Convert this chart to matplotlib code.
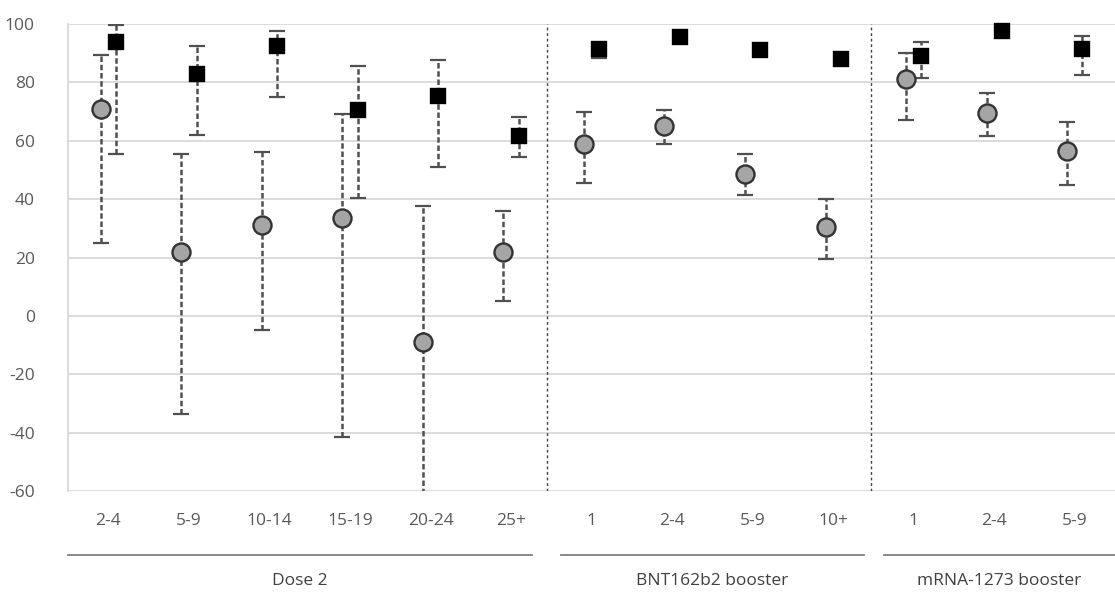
import matplotlib
matplotlib.use("Agg")
import matplotlib.pyplot as plt
import matplotlib.transforms as mtransforms

plt.rcParams['font.family'] = ['Open Sans', 'DejaVu Sans']
plt.rcParams['axes.unicode_minus'] = False

# category labels (months since dose) and group names
labels = ['2-4', '5-9', '10-14', '15-19', '20-24', '25+',
          '1', '2-4', '5-9', '10+',
          '1', '2-4', '5-9']
groups = ['Dose 2', 'BNT162b2 booster', 'mRNA-1273 booster']
group_start = [0, 6, 10]
group_end = [5, 9, 12]

# circle series (grey) with lower / upper bounds
circ = [71, 22, 31, 33.5, -9, 22, 59, 65, 48.5, 30.5, 81, 69.5, 56.5]
circ_lo = [25, -33.5, -5, -41.5, -75, 5, 45.5, 59, 41.5, 19.5, 67, 61.5, 45]
circ_hi = [89.5, 55.5, 56, 69, 37.5, 36, 70, 70.5, 55.5, 40, 90, 76.5, 66.5]

# square series (black) with lower / upper bounds
sq = [94, 83, 92.5, 70.5, 75.5, 61.5, 91.5, 95.5, 91, 88, 89, 97.5, 91.5]
sq_lo = [55.5, 62, 75, 40.5, 51, 54.5, 88.5, 93.5, 89, 86.5, 81.5, 95.5, 82.5]
sq_hi = [99.5, 92.5, 97.5, 85.5, 87.5, 68, 93.5, 97.5, 92.5, 89.5, 94, 99.5, 96]

x = list(range(len(labels)))
off = 0.095
xc = [i - off for i in x]
xs = [i + off for i in x]

fig = plt.figure(figsize=(11.15, 5.93), dpi=100)
ax = fig.add_axes([0.0612, 0.172, 0.9388, 0.7875])

ebcol = '#505050'
dash = (0, (2.2, 1.1))

def draw(xx, y, lo, hi, marker, ms, fc):
    err = [[v - l for v, l in zip(y, lo)], [h - v for v, h in zip(y, hi)]]
    eb = ax.errorbar(xx, y, yerr=err, fmt='none', ecolor=ebcol, elinewidth=1.8,
                     capsize=6, capthick=1.6, zorder=2)
    eb[2][0].set_linestyle(dash)
    ax.plot(xx, y, linestyle='none', marker=marker, markersize=ms,
            markerfacecolor=fc, markeredgecolor='#333333' if fc != 'black' else 'black',
            markeredgewidth=1.7, zorder=3, clip_on=False)

draw(xc, circ, circ_lo, circ_hi, 'o', 13, '#a5a5a5')
draw(xs, sq, sq_lo, sq_hi, 's', 10.5, 'black')

# dotted separators between groups
for sep in [5.45, 9.47]:
    ax.axvline(sep, color='#404040', linewidth=1.0, linestyle=(0, (2, 2)), zorder=1)

ax.set_xlim(-0.5, 12.5)
ax.set_ylim(-60, 100)
ax.set_yticks(range(-60, 101, 20))
ax.set_xticks(x)
ax.set_xticklabels(labels)
ax.grid(axis='y', color='#d9d9d9', linewidth=1.3, zorder=0)
ax.set_axisbelow(True)
ax.tick_params(axis='both', length=0, colors='#595959', labelsize=12.5)
ax.tick_params(axis='y', pad=24)
ax.tick_params(axis='x', pad=16)
for s in ['top', 'right', 'bottom']:
    ax.spines[s].set_visible(False)
ax.spines['left'].set_color('#d9d9d9')
ax.spines['left'].set_linewidth(1.3)

# group lines and labels under the axis
trans = mtransforms.blended_transform_factory(ax.transData, ax.transAxes)
pads = [(0.0, -0.24), (0.12, -0.12), (0.13, 0.0)]
for g, a, b, (pa, pb) in zip(groups, group_start, group_end, pads):
    x0 = a - 0.5 + pa
    x1 = b + 0.5 + pb
    ax.plot([x0, x1], [-0.137, -0.137], color='#7f7f7f', linewidth=1.3,
            transform=trans, clip_on=False)
    ax.text((x0 + x1) / 2, -0.193, g, transform=trans, ha='center', va='center',
            fontsize=12.5, color='#404040')

fig.savefig('out.png', dpi=100)
